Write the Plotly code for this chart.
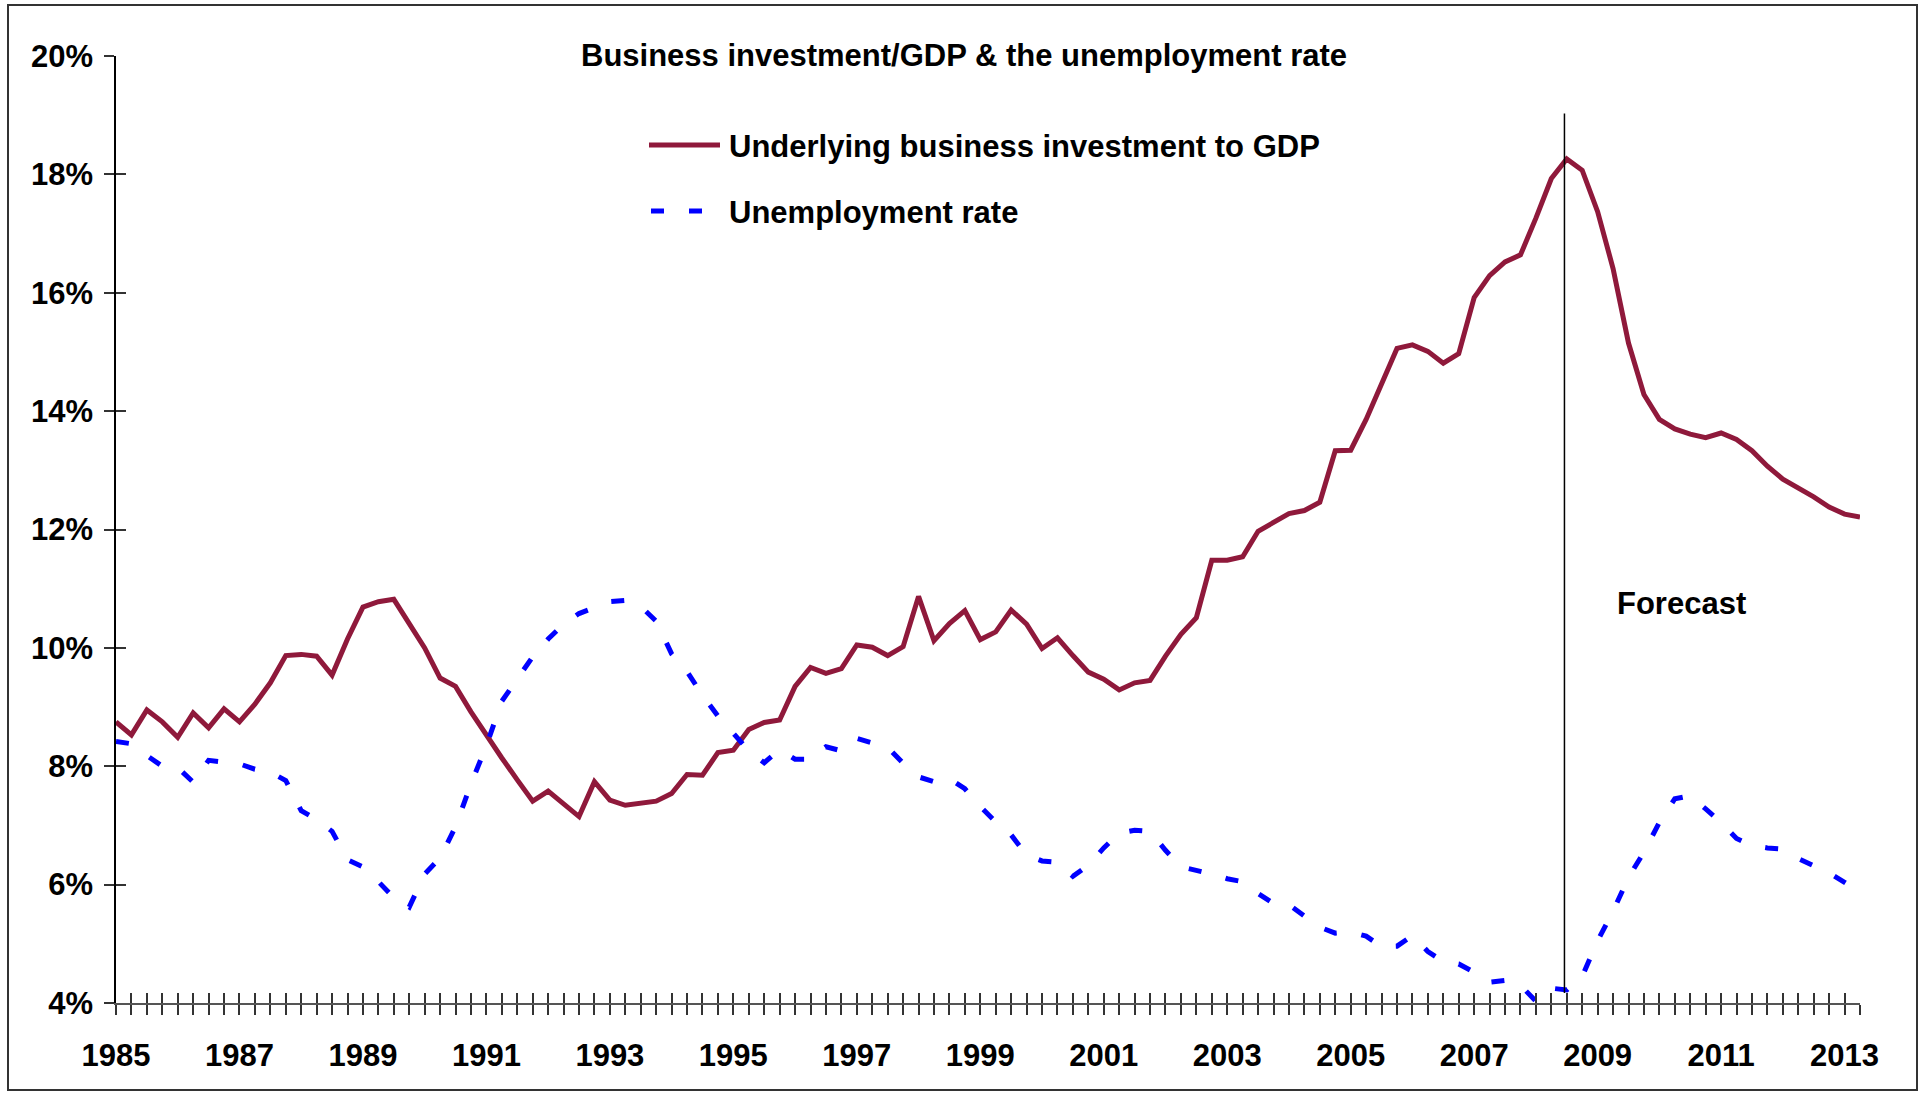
import plotly.graph_objects as go

# Quarterly observations, 1985 Q1 to 2013 Q2 (forecast from late 2008)
quarters = [f"{y} Q{q}" for y in range(1985, 2014) for q in range(1, 5)][:114]

# Underlying business investment to GDP (%)
investment = [
    8.75, 8.53, 8.95, 8.75, 8.49, 8.90, 8.65, 8.97, 8.75, 9.05,
    9.41, 9.87, 9.89, 9.86, 9.54, 10.15, 10.69, 10.78, 10.82, 10.40,
    10.00, 9.49, 9.35, 8.92, 8.52, 8.14, 7.77, 7.41, 7.58, 7.37,
    7.15, 7.74, 7.43, 7.34, 7.37, 7.41, 7.54, 7.86, 7.85, 8.23,
    8.27, 8.62, 8.74, 8.78, 9.35, 9.67, 9.57, 9.65, 10.05, 10.01,
    9.87, 10.02, 10.87, 10.12, 10.41, 10.63, 10.14, 10.27, 10.64, 10.40,
    9.99, 10.17, 9.87, 9.59, 9.47, 9.29, 9.41, 9.45, 9.86, 10.23,
    10.51, 11.48, 11.48, 11.54, 11.97, 12.13, 12.27, 12.32, 12.46, 13.33,
    13.34, 13.86, 14.46, 15.06, 15.12, 15.01, 14.81, 14.97, 15.92, 16.29,
    16.52, 16.64, 17.26, 17.93, 18.26, 18.07, 17.37, 16.41, 15.15, 14.28,
    13.86, 13.70, 13.61, 13.55, 13.63, 13.52, 13.33, 13.07, 12.85, 12.71,
    12.55, 12.38, 12.26, 12.21,
]

# Unemployment rate (%)
unemployment = [
    8.42, 8.38, 8.18, 8.00, 7.98, 7.73, 8.10, 8.07, 8.04, 7.95,
    7.90, 7.76, 7.25, 7.10, 6.90, 6.42, 6.30, 6.05, 5.78, 5.62,
    6.18, 6.45, 6.98, 7.70, 8.35, 9.10, 9.48, 9.85, 10.15, 10.40,
    10.58, 10.68, 10.78, 10.80, 10.70, 10.45, 9.90, 9.60, 9.20, 8.85,
    8.55, 8.26, 8.06, 8.28, 8.12, 8.12, 8.33, 8.26, 8.47, 8.39,
    8.32, 8.05, 7.82, 7.74, 7.79, 7.62, 7.32, 7.06, 6.84, 6.50,
    6.40, 6.38, 6.14, 6.33, 6.62, 6.87, 6.92, 6.90, 6.58, 6.30,
    6.25, 6.18, 6.10, 6.05, 5.85, 5.68, 5.66, 5.46, 5.28, 5.18,
    5.20, 5.13, 4.95, 4.96, 5.14, 4.87, 4.70, 4.66, 4.52, 4.35,
    4.38, 4.30, 4.03, 4.25, 4.22, 4.45, 5.05, 5.55, 6.12, 6.55,
    7.05, 7.45, 7.50, 7.28, 7.05, 6.78, 6.66, 6.62, 6.60, 6.44,
    6.32, 6.20, 6.04, 5.88,
]

# Year labels on the first quarter of every other year
year_labels = [q[:4] if q.endswith("Q1") and int(q[:4]) % 2 == 1 else "" for q in quarters]
y_ticks = [4, 6, 8, 10, 12, 14, 16, 18, 20]

TITLE = "Business investment/GDP & the unemployment rate"
SERIES_NAMES = ["Underlying business investment to GDP", "Unemployment rate"]
FORECAST_LABEL = "Forecast"
forecast_divider = 93.85          # category position of the forecast divider
forecast_divider_span = [4.17, 19.03]

MAROON = "#8F193B"
BLUE = "#0000FF"
FONT = "Liberation Sans, Arial, Helvetica, sans-serif"
UNEMP_DASH = "13px,25px"

W, H = 1923, 1093
ML, MR, MT, MB = 116, 63, 56, 90
PW, PH = W - ML - MR, H - MT - MB


def px(xp):
    return (xp - ML) / PW


def py(yp):
    return (H - MB - yp) / PH


fig = go.Figure()
fig.add_trace(go.Scatter(
    x=quarters, y=investment, mode="lines", name=SERIES_NAMES[0],
    line=dict(color=MAROON, width=5), xaxis="x", yaxis="y",
    showlegend=False, hoverinfo="skip",
))
fig.add_trace(go.Scatter(
    x=quarters, y=unemployment, mode="lines", name=SERIES_NAMES[1],
    line=dict(color=BLUE, width=5, dash=UNEMP_DASH), xaxis="x2", yaxis="y2",
    showlegend=False, hoverinfo="skip",
))

tick_font = dict(family=FONT, size=31, color="black", weight="bold")
x_common = dict(
    type="category", range=[0, len(quarters) - 1], tickmode="array",
    tickvals=quarters, ticklen=10, tickwidth=1.5, tickcolor="#333333",
    showgrid=False, zeroline=False,
)
y_common = dict(
    range=[4, 20], tickmode="array", tickvals=y_ticks, ticklen=10,
    tickwidth=1.5, tickcolor="#333333", showgrid=False, zeroline=False,
)

fig.update_layout(
    width=W, height=H,
    margin=dict(l=ML, r=MR, t=MT, b=MB, pad=0),
    paper_bgcolor="white", plot_bgcolor="white",
    showlegend=False,
    xaxis=dict(**x_common, ticktext=year_labels, ticks="outside",
               showline=True, linecolor="#555555", linewidth=2,
               tickfont=tick_font, ticklabelstandoff=14),
    xaxis2=dict(**x_common, ticktext=["" for _ in quarters], ticks="inside",
                overlaying="x", anchor="y", showline=False, matches="x"),
    yaxis=dict(**y_common, ticktext=[f"{v}%" for v in y_ticks], ticks="outside",
               showline=True, linecolor="black", linewidth=1.5,
               tickfont=tick_font, ticklabelstandoff=5),
    yaxis2=dict(**y_common, ticktext=["" for _ in y_ticks], ticks="inside",
                overlaying="y", anchor="x", side="left", showline=False,
                matches="y"),
)

shapes = [
    # chart frame
    dict(type="rect", xref="paper", yref="paper",
         x0=px(8), x1=px(1917), y0=py(1090), y1=py(5),
         line=dict(color="#333333", width=2), layer="below"),
    # forecast divider
    dict(type="line", xref="x", yref="y",
         x0=forecast_divider, x1=forecast_divider,
         y0=forecast_divider_span[0], y1=forecast_divider_span[1],
         line=dict(color="black", width=1.5)),
    # legend samples
    dict(type="line", xref="paper", yref="paper",
         x0=px(649), x1=px(720), y0=py(145), y1=py(145),
         line=dict(color=MAROON, width=5)),
    dict(type="line", xref="paper", yref="paper",
         x0=px(651), x1=px(720), y0=py(211), y1=py(211),
         line=dict(color=BLUE, width=5, dash=UNEMP_DASH)),
]
fig.update_layout(shapes=shapes)

text_font = dict(family=FONT, size=31, color="black", weight="bold")
annotations = [
    dict(text=TITLE, x=px(964), y=py(55), xanchor="center", yanchor="middle"),
    dict(text=SERIES_NAMES[0], x=px(727), y=py(147), xanchor="left", yanchor="middle"),
    dict(text=SERIES_NAMES[1], x=px(727), y=py(212), xanchor="left", yanchor="middle"),
    dict(text=FORECAST_LABEL, x=px(1681), y=py(604), xanchor="center", yanchor="middle"),
]
for a in annotations:
    fig.add_annotation(xref="paper", yref="paper", showarrow=False,
                       font=text_font, **a)

fig.write_html("out.html")
